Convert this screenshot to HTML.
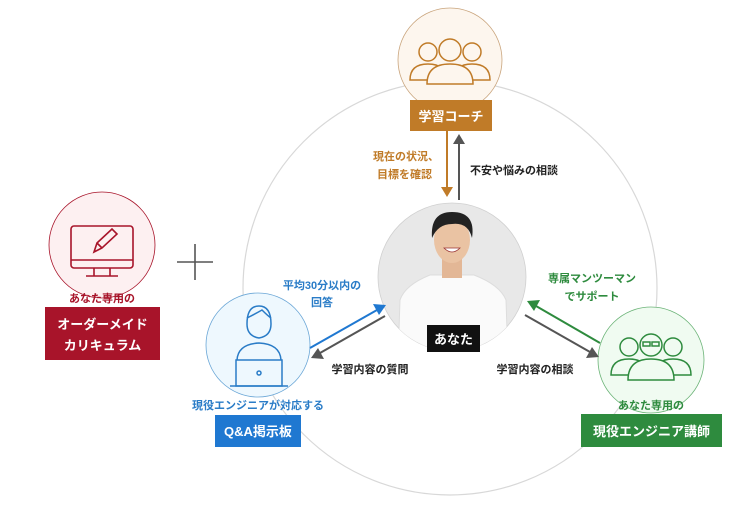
<!DOCTYPE html>
<html><head><meta charset="utf-8"><style>
html,body{margin:0;padding:0;background:#fff;}
svg{display:block;font-family:"Liberation Sans","Noto Sans CJK JP",sans-serif;font-weight:bold;}
</style></head><body>
<svg width="753" height="520" viewBox="0 0 753 520" xmlns="http://www.w3.org/2000/svg">
<defs>
<marker id="mo" markerWidth="8" markerHeight="8" refX="6" refY="4" orient="auto" markerUnits="userSpaceOnUse"><path d="M0,0 L8,4 L0,8z" fill="#c07b28"/></marker>
</defs>
<!-- big circle -->
<circle cx="450" cy="288" r="207" fill="#fff" stroke="#d8d8d8" stroke-width="1.2"/>

<!-- red curriculum -->
<circle cx="102" cy="245" r="53" fill="#fdf0f1" stroke="#a8142a" stroke-width="0.8"/>
<g fill="none" stroke="#a8142a" stroke-width="1.6">
<rect x="71" y="226" width="62" height="42" rx="3"/>
<line x1="71" y1="260" x2="133" y2="260"/>
<line x1="94" y1="268" x2="94" y2="276"/><line x1="110" y1="268" x2="110" y2="276"/>
<line x1="86" y1="276" x2="118" y2="276"/>
<path d="M94,252 L97,243 L112,229 L117,234 L102,248 Z M97,243 L102,248"/>
</g>
<text x="102" y="302" font-size="11" fill="#a8142a" text-anchor="middle">あなた専用の</text>
<rect x="45" y="307" width="115" height="53" fill="#a8142a"/>
<text x="102.5" y="329" font-size="13" fill="#fff" text-anchor="middle">オーダーメイド</text>
<text x="102.5" y="350" font-size="13" fill="#fff" text-anchor="middle">カリキュラム</text>

<!-- plus -->
<g stroke="#555" stroke-width="1.6"><line x1="177" y1="262" x2="213" y2="262"/><line x1="195" y1="244" x2="195" y2="280"/></g>

<!-- coach -->
<circle cx="450" cy="60" r="52" fill="#fdf6ee" stroke="#c9a47c" stroke-width="0.8"/>
<g fill="none" stroke="#c07b28" stroke-width="1.5">
<circle cx="428" cy="52" r="9"/><path d="M410,80 Q410,64 428,64 Q446,64 446,80 Z"/>
<circle cx="472" cy="52" r="9"/><path d="M454,80 Q454,64 472,64 Q490,64 490,80 Z"/>
<circle cx="450" cy="50" r="11"/><path d="M427,84 Q427,64 450,64 Q473,64 473,84 Z" fill="#fdf6ee"/>
</g>
<rect x="410" y="100" width="82" height="31" fill="#c07b28"/>
<text x="451" y="121" font-size="13" fill="#fff" text-anchor="middle">学習コーチ</text>
<line x1="447" y1="131" x2="447" y2="188" stroke="#c07b28" stroke-width="2"/>
<path d="M441,187 L453,187 L447,197z" fill="#c07b28"/>
<line x1="459" y1="200" x2="459" y2="143" stroke="#555" stroke-width="2"/>
<path d="M453,144 L465,144 L459,134z" fill="#555"/>
<text x="439" y="160" font-size="11" fill="#c07b28" text-anchor="end">現在の状況、</text>
<text x="432" y="178" font-size="11" fill="#c07b28" text-anchor="end">目標を確認</text>
<text x="470" y="174" font-size="11" fill="#222">不安や悩みの相談</text>

<!-- you photo -->
<circle cx="452" cy="277" r="74" fill="#e8e8e8" stroke="#d0d0d0" stroke-width="0.8"/>
<clipPath id="cp"><circle cx="452" cy="277" r="74"/></clipPath>
<g clip-path="url(#cp)">
<path d="M398,360 L400,300 Q405,285 430,275 L474,275 Q500,285 506,300 L508,360 Z" fill="#fafafa" stroke="#ddd"/>
<rect x="442" y="258" width="20" height="20" fill="#e3b796"/>
<ellipse cx="452" cy="240" rx="18" ry="23" fill="#eac3a3"/>
<path d="M432,238 Q430,212 452,212 Q476,212 472,238 Q468,222 452,224 Q438,224 432,238Z" fill="#222"/>
<path d="M444,248 Q452,256 460,248Z" fill="#fff" stroke="#933" stroke-width="0.8"/>
</g>
<rect x="427" y="325" width="53" height="27" fill="#111"/>
<text x="453.5" y="344" font-size="13" fill="#fff" text-anchor="middle">あなた</text>

<!-- blue QA -->
<circle cx="258" cy="345" r="52" fill="#eef8fe" stroke="#6aa6d6" stroke-width="0.8"/>
<g fill="none" stroke="#2a7cc7" stroke-width="1.5">
<path d="M247,324 Q247,306 259,306 Q271,306 271,324 Q271,336 259,338 Q247,336 247,324Z"/>
<path d="M247,318 Q255,314 262,310 Q268,316 271,318"/>
<path d="M237,360 Q238,344 259,343 Q280,344 281,360"/>
<rect x="236" y="360" width="46" height="26"/>
<line x1="230" y1="386" x2="288" y2="386"/>
<circle cx="259" cy="373" r="2"/>
</g>
<text x="258" y="409" font-size="11" fill="#2a7cc7" text-anchor="middle">現役エンジニアが対応する</text>
<rect x="215" y="415" width="86" height="32" fill="#1f78d1"/>
<text x="258" y="436" font-size="13" fill="#fff" text-anchor="middle">Q&amp;A掲示板</text>
<line x1="310" y1="348" x2="377" y2="310" stroke="#1f78d1" stroke-width="2"/>
<path d="M373,304 L386,305 L379,315z" fill="#1f78d1"/>
<line x1="385" y1="316" x2="320" y2="353" stroke="#555" stroke-width="2"/>
<path d="M324,359 L311,358 L318,348z" fill="#555"/>
<text x="322" y="289" font-size="11" fill="#2a7cc7" text-anchor="middle">平均30分以内の</text>
<text x="322" y="306" font-size="11" fill="#2a7cc7" text-anchor="middle">回答</text>
<text x="370" y="373" font-size="11" fill="#222" text-anchor="middle">学習内容の質問</text>

<!-- green mentor -->
<circle cx="651" cy="360" r="53" fill="#f0fbf1" stroke="#6bb377" stroke-width="0.8"/>
<g fill="none" stroke="#2e8b3e" stroke-width="1.5">
<circle cx="629" cy="347" r="9"/><path d="M611,375 Q611,359 629,359 Q647,359 647,375 Z"/>
<circle cx="673" cy="347" r="9"/><path d="M655,375 Q655,359 673,359 Q691,359 691,375 Z"/>
<circle cx="651" cy="345" r="11"/><path d="M628,380 Q628,359 651,359 Q674,359 674,380 Z" fill="#f0fbf1"/>
<rect x="643" y="342" width="7" height="4"/><rect x="652" y="342" width="7" height="4"/>
</g>
<text x="651" y="409" font-size="11" fill="#2e8b3e" text-anchor="middle">あなた専用の</text>
<rect x="581" y="414" width="141" height="33" fill="#2e8b3e"/>
<text x="651.5" y="436" font-size="13" fill="#fff" text-anchor="middle">現役エンジニア講師</text>
<line x1="600" y1="343" x2="536" y2="306" stroke="#2e8b3e" stroke-width="2"/>
<path d="M540,300 L527,301 L534,311z" fill="#2e8b3e"/>
<line x1="525" y1="315" x2="590" y2="352" stroke="#555" stroke-width="2"/>
<path d="M586,358 L599,357 L592,347z" fill="#555"/>
<text x="592" y="282" font-size="11" fill="#2e8b3e" text-anchor="middle">専属マンツーマン</text>
<text x="592" y="300" font-size="11" fill="#2e8b3e" text-anchor="middle">でサポート</text>
<text x="535" y="373" font-size="11" fill="#222" text-anchor="middle">学習内容の相談</text>
</svg>
</body></html>
